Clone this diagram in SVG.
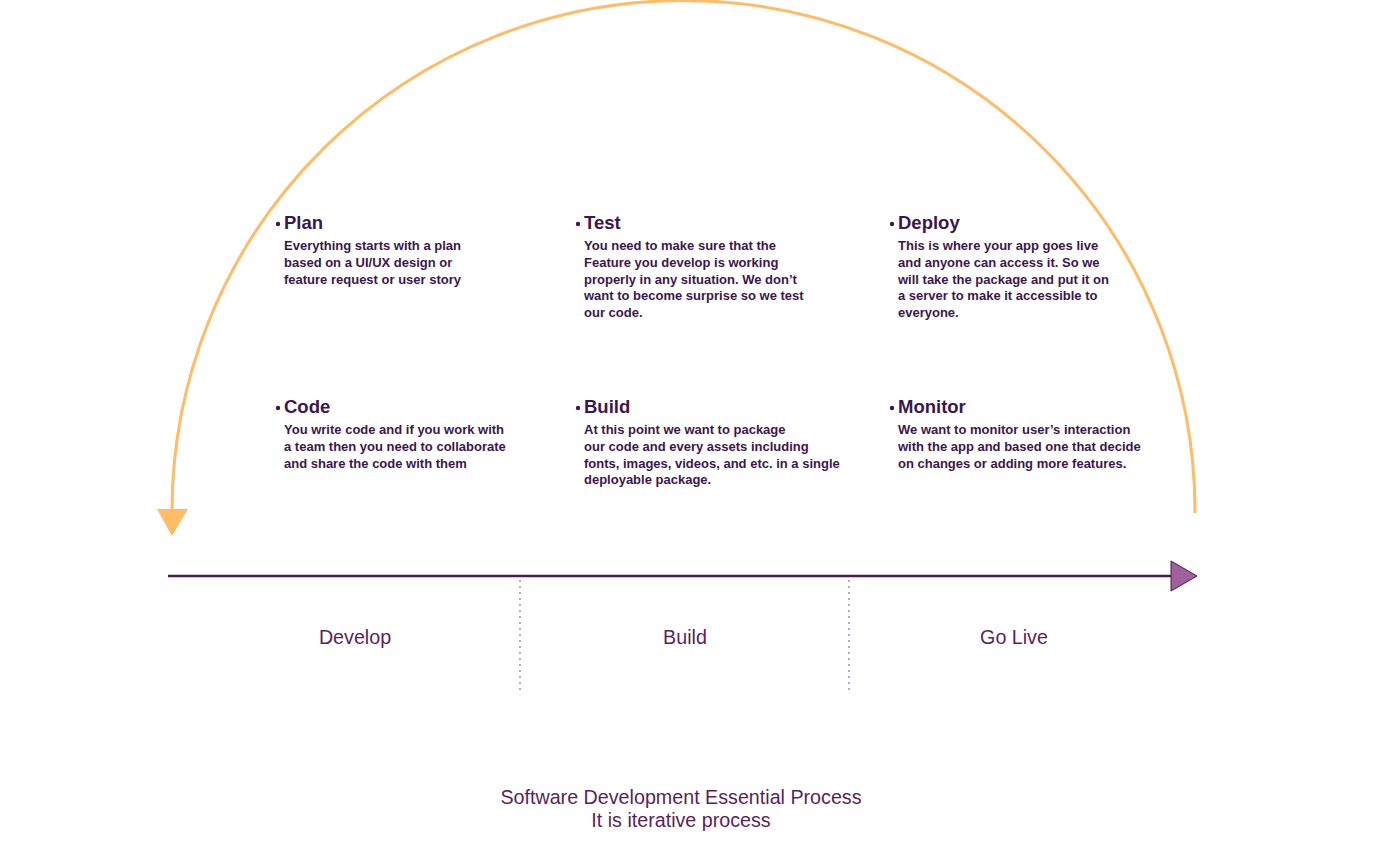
<svg xmlns="http://www.w3.org/2000/svg" width="1400" height="861" viewBox="0 0 1400 861">
<style>
.h{font-family:"Liberation Sans",Arial,sans-serif;font-size:18.5px;font-weight:bold;fill:#3b1650;}
.b{font-family:"Liberation Sans",Arial,sans-serif;font-size:13px;font-weight:bold;fill:#3b1650;}
.l{font-family:"Liberation Sans",Arial,sans-serif;font-size:19.7px;fill:#5a1f5e;text-anchor:middle;}
.dot{fill:#3b1650;}
.div{stroke:#a8659a;stroke-width:1.2;stroke-dasharray:2 4;fill:none;}
</style>
<rect width="1400" height="861" fill="#ffffff"/>
<g id="connectors">
<path d="M1195,513 A511.5,511 0 0 0 172,510" fill="none" stroke="#ffbb66" stroke-width="3"/>
<polygon points="157,509 188,509 172,536" fill="#ffbb66"/>
<line x1="168" y1="576" x2="1172" y2="576" stroke="#4a1a4e" stroke-width="2.5"/>
<polygon points="1171,561 1197,576 1171,591" fill="#a0609e" stroke="#4a1a4e" stroke-width="1"/>
<line class="div" x1="520" y1="580" x2="520" y2="694"/>
<line class="div" x1="849" y1="580" x2="849" y2="694"/>
</g>
<g id="plan">
<circle class="dot" cx="278" cy="224" r="2.2"/>
<text class="h" x="284" y="229">Plan</text>
<text class="b" x="284" y="250">Everything starts with a plan</text>
<text class="b" x="284" y="267">based on a UI/UX design or</text>
<text class="b" x="284" y="284">feature request or user story</text>
</g>
<g id="test">
<circle class="dot" cx="578" cy="224" r="2.2"/>
<text class="h" x="584" y="229">Test</text>
<text class="b" x="584" y="250">You need to make sure that the</text>
<text class="b" x="584" y="267">Feature you develop is working</text>
<text class="b" x="584" y="284">properly in any situation. We don’t</text>
<text class="b" x="584" y="300">want to become surprise so we test</text>
<text class="b" x="584" y="317">our code.</text>
</g>
<g id="deploy">
<circle class="dot" cx="892" cy="224" r="2.2"/>
<text class="h" x="898" y="229">Deploy</text>
<text class="b" x="898" y="250">This is where your app goes live</text>
<text class="b" x="898" y="267">and anyone can access it. So we</text>
<text class="b" x="898" y="284">will take the package and put it on</text>
<text class="b" x="898" y="300">a server to make it accessible to</text>
<text class="b" x="898" y="317">everyone.</text>
</g>
<g id="code">
<circle class="dot" cx="278" cy="408" r="2.2"/>
<text class="h" x="284" y="413">Code</text>
<text class="b" x="284" y="434">You write code and if you work with</text>
<text class="b" x="284" y="451">a team then you need to collaborate</text>
<text class="b" x="284" y="468">and share the code with them</text>
</g>
<g id="build">
<circle class="dot" cx="578" cy="408" r="2.2"/>
<text class="h" x="584" y="413">Build</text>
<text class="b" x="584" y="434">At this point we want to package</text>
<text class="b" x="584" y="451">our code and every assets including</text>
<text class="b" x="584" y="468">fonts, images, videos, and etc. in a single</text>
<text class="b" x="584" y="484">deployable package.</text>
</g>
<g id="monitor">
<circle class="dot" cx="892" cy="408" r="2.2"/>
<text class="h" x="898" y="413">Monitor</text>
<text class="b" x="898" y="434">We want to monitor user’s interaction</text>
<text class="b" x="898" y="451">with the app and based one that decide</text>
<text class="b" x="898" y="468">on changes or adding more features.</text>
</g>
<g id="phases">
<text class="l" x="355" y="644">Develop</text>
<text class="l" x="685" y="644">Build</text>
<text class="l" x="1014" y="644">Go Live</text>
</g>
<g id="title">
<text class="l" x="681" y="804">Software Development Essential Process</text>
<text class="l" x="681" y="827">It is iterative process</text>
</g>
</svg>
